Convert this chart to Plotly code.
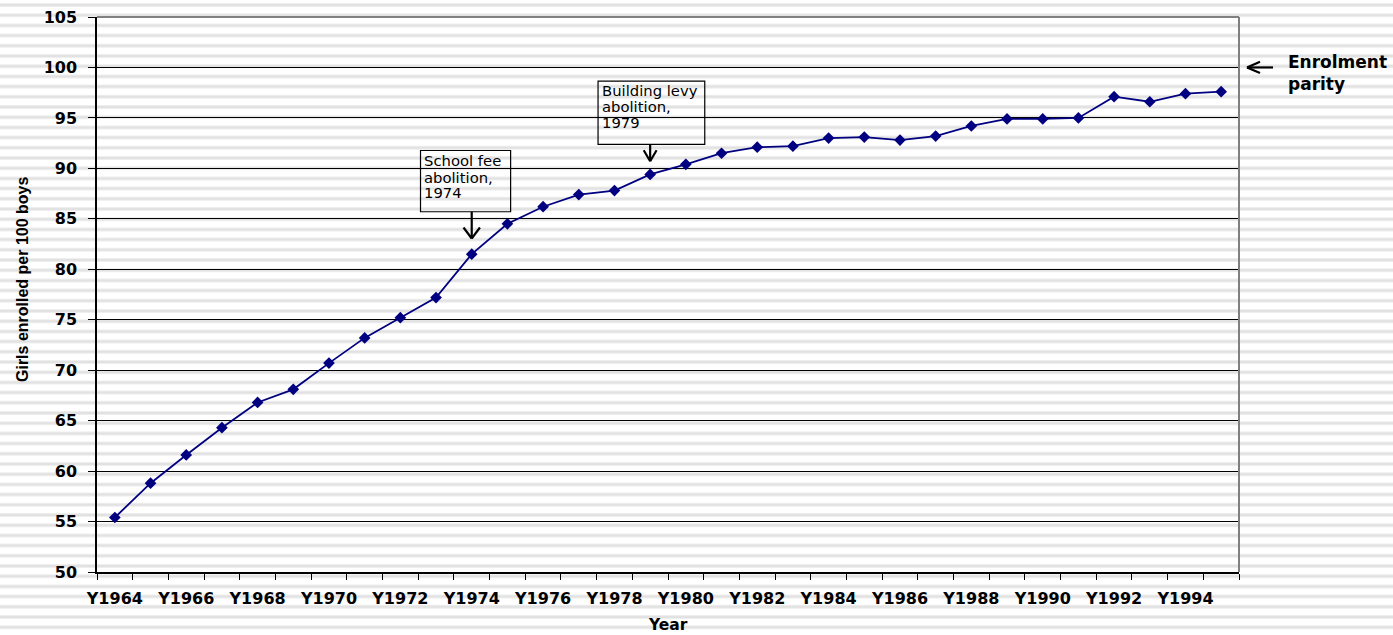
import plotly.graph_objects as go

# Girls enrolled per 100 boys, by year
years = ["Y1964", "Y1965", "Y1966", "Y1967", "Y1968", "Y1969", "Y1970", "Y1971",
         "Y1972", "Y1973", "Y1974", "Y1975", "Y1976", "Y1977", "Y1978", "Y1979",
         "Y1980", "Y1981", "Y1982", "Y1983", "Y1984", "Y1985", "Y1986", "Y1987",
         "Y1988", "Y1989", "Y1990", "Y1991", "Y1992", "Y1993", "Y1994", "Y1995"]
ratio = [55.4, 58.8, 61.6, 64.3, 66.8, 68.1, 70.7, 73.2, 75.2, 77.2,
         81.5, 84.5, 86.2, 87.4, 87.8, 89.4, 90.4, 91.5, 92.1, 92.2,
         93.0, 93.1, 92.8, 93.2, 94.2, 94.9, 94.9, 95.0, 97.1, 96.6,
         97.4, 97.6]
# every other year is labelled on the axis
tick_text = [y if i % 2 == 0 else "" for i, y in enumerate(years)]
y_ticks = [50, 55, 60, 65, 70, 75, 80, 85, 90, 95, 100, 105]

W_FIG, H_FIG = 1393, 635
M_L, M_R, M_T, M_B = 97, 154, 17, 63
PW = W_FIG - M_L - M_R
PH = H_FIG - M_T - M_B


def paper_x(px):
    return (px - M_L) / PW


def paper_y(py):
    return (M_T + PH - py) / PH


NAVY = "#000080"
FONT = "DejaVu Sans"

fig = go.Figure(
    go.Scatter(
        x=years, y=ratio, mode="lines+markers",
        line=dict(color=NAVY, width=1.8),
        marker=dict(symbol="diamond", size=9, color=NAVY),
        showlegend=False,
    )
)

shapes = []
# striped page background
k = 0
while True:
    yy = 5 + 10.2 * k
    if yy > H_FIG:
        break
    shapes.append(dict(type="line", xref="paper", yref="paper",
                       x0=paper_x(0), x1=paper_x(W_FIG),
                       y0=paper_y(yy), y1=paper_y(yy),
                       line=dict(color="#eeeeee", width=4), layer="below"))
    shapes.append(dict(type="line", xref="paper", yref="paper",
                       x0=paper_x(0), x1=paper_x(W_FIG),
                       y0=paper_y(yy), y1=paper_y(yy),
                       line=dict(color="#e2e2e2", width=2), layer="below"))
    k += 1

# grey top and right frame
shapes.append(dict(type="line", xref="paper", yref="paper", x0=0, x1=1, y0=1, y1=1,
                   line=dict(color="#808080", width=2), layer="above"))
shapes.append(dict(type="line", xref="paper", yref="paper", x0=1, x1=1, y0=0, y1=1,
                   line=dict(color="#808080", width=2), layer="above"))


def box(x0, x1, y0, y1):
    return dict(type="rect", xref="x", yref="y", x0=x0, x1=x1, y0=y0, y1=y1,
                line=dict(color="black", width=1.2), fillcolor="rgba(0,0,0,0)",
                layer="above")


def down_arrow(x, y_top, y_tip, dx, dy):
    ln = dict(color="black", width=2.2)
    return [
        dict(type="line", xref="x", yref="y", x0=x, x1=x, y0=y_top, y1=y_tip, line=ln),
        dict(type="line", xref="x", yref="y", x0=x - dx, x1=x, y0=y_tip + dy, y1=y_tip, line=ln),
        dict(type="line", xref="x", yref="y", x0=x + dx, x1=x, y0=y_tip + dy, y1=y_tip, line=ln),
    ]


shapes.append(box(8.565, 11.09, 85.70, 91.77))
shapes += down_arrow(10, 85.70, 83.05, 0.23, 1.09)
shapes.append(box(13.54, 16.53, 92.37, 98.64))
shapes += down_arrow(15, 92.37, 90.71, 0.18, 1.09)

# left-pointing arrow at parity
aln = dict(color="black", width=2.2)
shapes += [
    dict(type="line", xref="paper", yref="y", x0=paper_x(1247), x1=paper_x(1273),
         y0=100, y1=100, line=aln),
    dict(type="line", xref="paper", yref="y", x0=paper_x(1247), x1=paper_x(1260),
         y0=100, y1=100.56, line=aln),
    dict(type="line", xref="paper", yref="y", x0=paper_x(1247), x1=paper_x(1260),
         y0=100, y1=99.44, line=aln),
]

annotations = []
for txt, yv in [("School fee", 90.81), ("abolition,", 89.13), ("1974", 87.58)]:
    annotations.append(dict(x=8.62, y=yv, xref="x", yref="y", text=txt,
                            xanchor="left", yanchor="middle", showarrow=False,
                            font=dict(family=FONT, size=14.8, color="black")))
for txt, yv in [("Building levy", 97.75), ("abolition,", 96.10), ("1979", 94.52)]:
    annotations.append(dict(x=13.60, y=yv, xref="x", yref="y", text=txt,
                            xanchor="left", yanchor="middle", showarrow=False,
                            font=dict(family=FONT, size=14.8, color="black")))
for txt, yv in [("Enrolment", 100.52), ("parity", 98.32)]:
    annotations.append(dict(x=paper_x(1286), y=yv, xref="paper", yref="y", text=txt,
                            xanchor="left", yanchor="middle", showarrow=False,
                            font=dict(family=FONT, size=17, color="black", weight="bold")))

# axis titles
annotations.append(dict(x=0.5, y=paper_y(625), xref="paper", yref="paper", text="Year",
                        xanchor="center", yanchor="middle", showarrow=False,
                        font=dict(family=FONT, size=15.5, color="black", weight="bold")))
annotations.append(dict(x=paper_x(22), y=paper_y(279), xref="paper", yref="paper",
                        text="Girls enrolled per 100 boys", textangle=-90,
                        xanchor="center", yanchor="middle", showarrow=False,
                        font=dict(family="Liberation Sans", size=16, color="black",
                                  weight="bold")))

fig.update_layout(
    width=W_FIG, height=H_FIG,
    margin=dict(l=M_L, r=M_R, t=M_T, b=M_B, autoexpand=False),
    paper_bgcolor="white", plot_bgcolor="white",
    shapes=shapes, annotations=annotations,
    xaxis=dict(
        type="category", categoryorder="array", categoryarray=years,
        tickmode="array", tickvals=years, ticktext=tick_text, tickangle=0,
        tickson="boundaries", ticks="outside", ticklen=6, tickcolor="black",
        showline=True, linecolor="black", linewidth=1.5, showgrid=False,
        range=[-0.5, len(years) - 0.5], automargin=False,
        tickfont=dict(family=FONT, size=16, color="black", weight="bold"),
        ticklabelstandoff=11,
    ),
    yaxis=dict(
        range=[50, 105], tickmode="array", tickvals=y_ticks, automargin=False,
        ticks="outside", ticklen=7, tickcolor="black",
        showline=True, linecolor="black", linewidth=1.5,
        showgrid=True, gridcolor="black", gridwidth=1.3, zeroline=False,
        tickfont=dict(family=FONT, size=16, color="black", weight="bold"),
        ticklabelstandoff=8,
    ),
)

fig.write_html("out.html")
